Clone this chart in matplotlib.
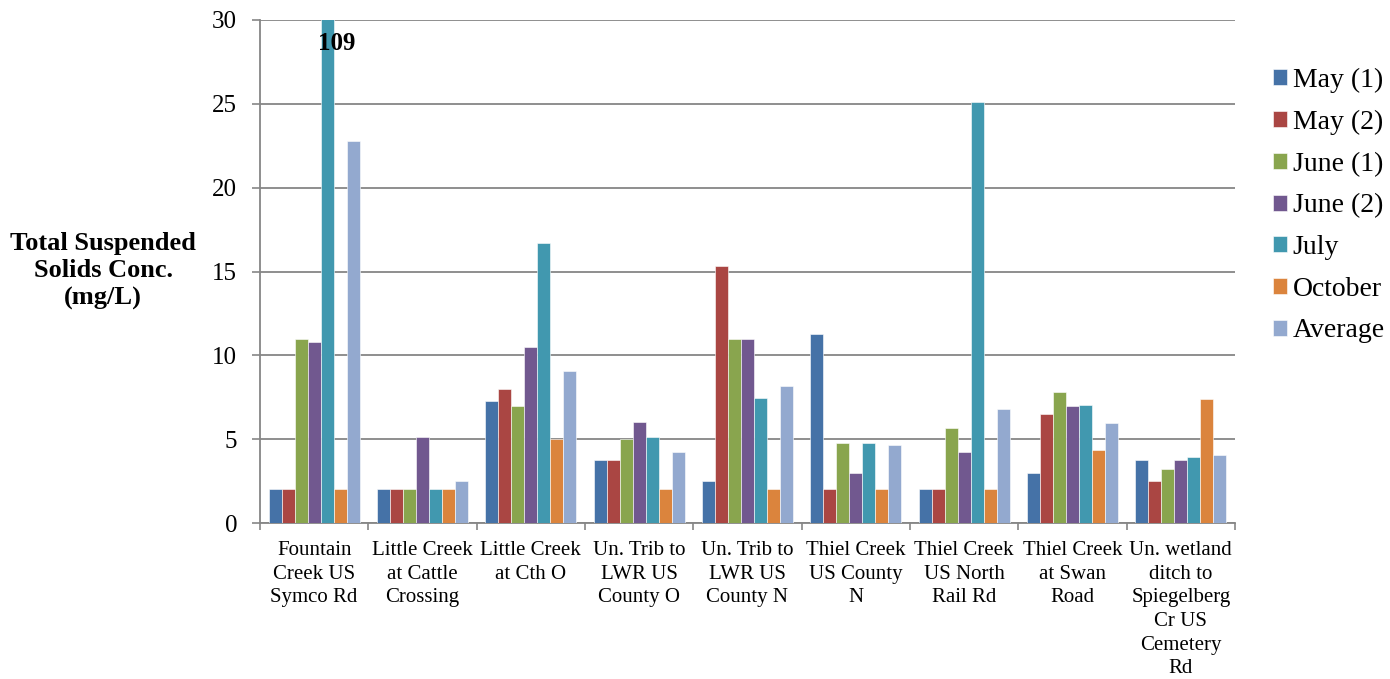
import matplotlib
matplotlib.use("Agg")
import matplotlib.pyplot as plt
import numpy as np

plt.rcParams['font.family'] = ['Liberation Serif', 'DejaVu Serif']

sites = ["Fountain\nCreek US\nSymco Rd", "Little Creek\nat Cattle\nCrossing", "Little Creek\nat Cth O",
         "Un. Trib to\nLWR US\nCounty O", "Un. Trib to\nLWR US\nCounty N", "Thiel Creek\nUS County\nN",
         "Thiel Creek\nUS North\nRail Rd", "Thiel Creek\nat Swan\nRoad",
         "Un. wetland\nditch to\nSpiegelberg\nCr US\nCemetery\nRd"]
series_names = ["May (1)", "May (2)", "June (1)", "June (2)", "July", "October", "Average"]
may1 = [2, 2, 7.25, 3.75, 2.5, 11.3, 2, 3.0, 3.75]
may2 = [2, 2, 8.0, 3.75, 15.3, 2, 2, 6.5, 2.5]
june1 = [11, 2, 7.0, 5.0, 11, 4.8, 5.67, 7.8, 3.2]
june2 = [10.8, 5.13, 10.5, 6.0, 11, 3.0, 4.23, 7.0, 3.75]
july = [109, 2, 16.7, 5.13, 7.43, 4.77, 25.1, 7.04, 3.92]
october = [2, 2, 5.0, 2, 2, 2, 2, 4.37, 7.42]
average = [22.8, 2.5, 9.08, 4.25, 8.19, 4.63, 6.82, 5.94, 4.07]
colors = ["#4572A7", "#AA4643", "#89A54E", "#71588F", "#4198AF", "#DB843D", "#93A9CF"]

data = [may1, may2, june1, june2, july, october, average]

fig = plt.figure(figsize=(13.9, 6.79), dpi=100)
ax = fig.add_axes([260/1390, 1-523/679, 975/1390, 503/679])

n = len(sites)
x = np.arange(n)
nb = len(data)
group_w = 0.84
bw = group_w / nb
for i, (vals, c, name) in enumerate(zip(data, colors, series_names)):
    ax.bar(x - group_w/2 + bw*(i+0.5), vals, width=bw, color=c, label=name,
           edgecolor='white', linewidth=0.4, zorder=3)

ax.set_ylim(0, 30)
ax.set_xlim(-0.5, n-0.5)
ax.set_yticks(range(0, 31, 5))
ax.tick_params(axis='y', labelsize=18, length=5.5, color='#868686', width=1.2, pad=11)
ax.yaxis.grid(True, color='#868686', linewidth=1.3, zorder=0)
ax.set_axisbelow(True)

ax.set_xticks(x)
ax.set_xticklabels(sites, fontsize=15, linespacing=1.33)
ax.tick_params(axis='x', length=0, pad=13)
ax.set_xticks(np.arange(-0.5, n, 1.0), minor=True)
ax.tick_params(axis='x', which='minor', length=5, color='#868686', width=1.2)

for s in ['top', 'right']:
    ax.spines[s].set_visible(False)
for s in ['left', 'bottom']:
    ax.spines[s].set_color('#868686')
    ax.spines[s].set_linewidth(1.3)

ax.annotate("109", xy=(0 - group_w/2 + bw*4.5, 28.6), ha='center', va='center',
            fontsize=18, fontweight='bold', xytext=(6.5, 0), textcoords='offset points')

fig.text(103/1390, 1-271/679, "Total Suspended\nSolids Conc.\n(mg/L)", ha='center', va='center',
         fontsize=19, fontweight='bold', linespacing=1.23)

leg = ax.legend(loc='upper left', bbox_to_anchor=(1262/1390, 1-57/679), bbox_transform=fig.transFigure,
                frameon=False, fontsize=20, handlelength=0.5, handleheight=0.5, handletextpad=0.2,
                labelspacing=0.6, borderaxespad=0)

fig.savefig("out.png", dpi=100)
